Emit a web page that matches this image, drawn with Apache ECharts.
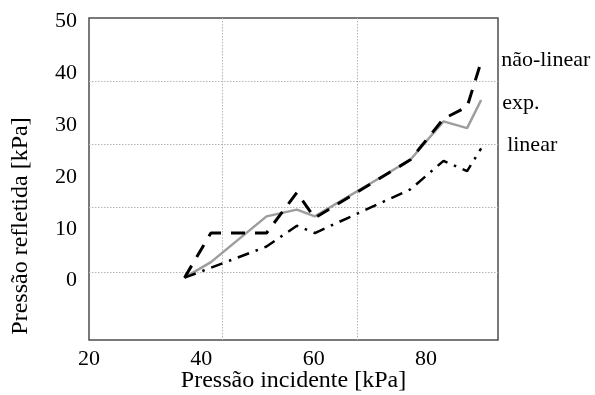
<!DOCTYPE html>
<html>
<head>
<meta charset="utf-8">
<script src="https://cdn.jsdelivr.net/npm/echarts@6/dist/echarts.min.js"></script>
<style>
  html, body { margin: 0; padding: 0; background: #fff; }
  #chart { width: 595px; height: 395px; }
</style>
</head>
<body>
<div id="chart"></div>
<script>
// Incident pressure [kPa] at each measured point
const incidentPressure = [37, 41.7, 51.6, 57, 60.2, 77.2, 83.1, 87.3, 89.8];
// Reflected pressure [kPa] for each model and the experiment
const naoLinear = [0, 8.6, 8.6, 16.4, 11.5, 22.7, 30.6, 32.9, 41.6];
const experimental = [0, 3.0, 11.8, 13.1, 11.8, 22.7, 30.1, 28.8, 34.2];
const linear = [0, 1.9, 6.0, 10.0, 8.6, 17.0, 22.5, 20.5, 24.9];

// Tick labels
const xTickLabels = [20, 40, 60, 80];
const yTickLabels = [0, 10, 20, 30, 40, 50];
// Dotted reference grid
const xGridLines = [43.7, 67.7];
const yGridLines = [1.0, 13.5, 25.6, 37.9];

const FONT = 'Liberation Serif';
const FS = 22;
const TITLE_FS = 24;

function pairs(ys) {
  return incidentPressure.map((x, i) => [x, ys[i]]);
}

const chart = echarts.init(document.getElementById('chart'), null, { renderer: 'canvas' });

const gridLine = { show: true, lineStyle: { color: '#b5b5b5', width: 1, type: [1.5, 1.5] } };

chart.setOption({
  animation: false,
  backgroundColor: '#fff',
  grid: {
    left: 89, top: 18, right: 97, bottom: 55,
    outerBoundsMode: 'none',
    show: true, borderColor: '#4d4d4d', borderWidth: 1.5, backgroundColor: 'transparent'
  },
  xAxis: {
    type: 'value', min: 20, max: 92.8,
    name: 'Pressão incidente [kPa]', nameLocation: 'middle', nameGap: 29,
    nameMoveOverlap: false,
    nameTextStyle: { fontFamily: FONT, fontSize: TITLE_FS, color: '#000' },
    axisLine: { show: false },
    axisTick: { show: false, customValues: xGridLines },
    axisLabel: { customValues: xTickLabels, fontFamily: FONT, fontSize: FS, color: '#000', margin: 8 },
    splitLine: gridLine
  },
  yAxis: {
    type: 'value', min: -12, max: 50,
    name: 'Pressão refletida [kPa]', nameLocation: 'middle', nameGap: 56,
    nameMoveOverlap: false,
    nameTextStyle: { fontFamily: FONT, fontSize: TITLE_FS, color: '#000', padding: [0, 94, 0, 0] },
    axisLine: { show: false },
    axisTick: { show: false, customValues: yGridLines },
    axisLabel: {
      customValues: yTickLabels, margin: 12,
      formatter: '{v|{value}}',
      rich: { v: { fontFamily: FONT, fontSize: FS, color: '#000', padding: [6, 0, 0, 0] } }
    },
    splitLine: gridLine
  },
  series: [
    {
      name: 'exp.', type: 'line', data: pairs(experimental), symbol: 'none', z: 2,
      lineStyle: { color: '#9d9d9d', width: 2.5 },
      endLabel: { show: true, formatter: '{a}', distance: 21, offset: [0, 3],
        fontFamily: FONT, fontSize: FS, color: '#000' }
    },
    {
      name: 'linear', type: 'line', data: pairs(linear), symbol: 'none', z: 3,
      lineStyle: { color: '#000', width: 2.5, type: [12, 7, 2.5, 7] },
      endLabel: { show: true, formatter: '{a}', distance: 26, offset: [0, -3],
        fontFamily: FONT, fontSize: FS, color: '#000' }
    },
    {
      name: 'não-linear', type: 'line', data: pairs(naoLinear), symbol: 'none', z: 4,
      lineStyle: { color: '#000', width: 3, type: [14, 10] },
      endLabel: { show: true, formatter: '{a}', distance: 20, offset: [0, -1],
        fontFamily: FONT, fontSize: FS, color: '#000' }
    }
  ]
});
</script>
</body>
</html>
